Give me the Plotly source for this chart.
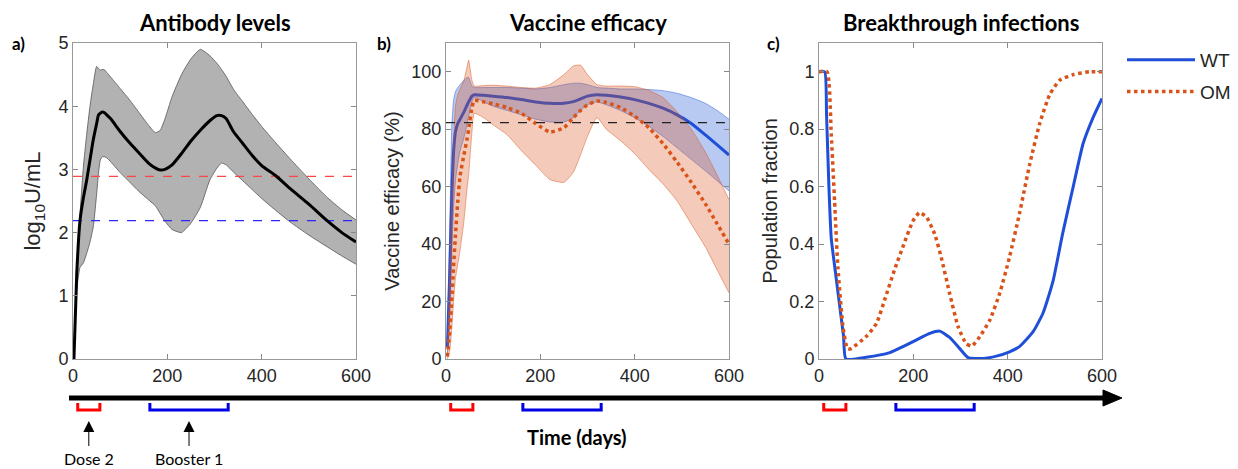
import plotly.graph_objects as go

# --- a) antibody levels (log10 U/mL) ---
days_a = [2, 8, 15, 22, 29, 36, 43, 50, 54, 58, 62, 66, 72, 80, 100, 120, 140, 160, 175, 185,
          195, 210, 230, 250, 270, 290, 305, 315, 325, 340, 360, 380, 400, 430, 460, 500, 540, 570, 600]
ab_med = [0, 1.36, 2.2, 2.55, 2.83, 3.15, 3.47, 3.72, 3.86, 3.89, 3.91, 3.9, 3.86, 3.8, 3.6, 3.42,
          3.26, 3.1, 3.02, 2.99, 3.0, 3.07, 3.25, 3.45, 3.62, 3.77, 3.85, 3.85, 3.8, 3.6, 3.41, 3.22,
          3.06, 2.9, 2.7, 2.45, 2.18, 2.0, 1.85]
ab_hi = [0.1, 1.2, 2.3, 3.04, 3.55, 4.0, 4.35, 4.63, 4.6, 4.57, 4.58, 4.58, 4.53, 4.46, 4.28, 4.1,
         3.9, 3.7, 3.58, 3.62, 3.8, 4.15, 4.5, 4.75, 4.9, 4.8, 4.68, 4.58, 4.47, 4.27, 4.07, 3.87,
         3.68, 3.42, 3.17, 2.85, 2.55, 2.36, 2.2]
ab_lo = [0, 1.1, 1.45, 1.52, 1.67, 1.85, 2.09, 2.6, 2.94, 3.15, 3.2, 3.2, 3.18, 3.12, 2.95, 2.8,
         2.65, 2.52, 2.42, 2.3, 2.18, 2.05, 2.0, 2.15, 2.4, 2.83, 3.02, 3.1, 3.07, 2.96, 2.82, 2.68,
         2.54, 2.35, 2.17, 1.96, 1.77, 1.63, 1.5]
thr_om = 2.89
thr_wt = 2.19

# --- b) vaccine efficacy (%) ---
days_b = [3, 8, 12, 16, 20, 25, 30, 38, 45, 48, 55, 60, 80, 100, 130, 160, 190, 220, 250, 270,
          285, 300, 320, 340, 370, 400, 430, 460, 490, 520, 550, 575, 600]
wt_med = [4, 30, 55, 72, 79, 82, 83.5, 86, 88.5, 89.5, 91.5, 92, 91.8, 91.5, 91, 90.3, 89.5, 89,
          89, 89.6, 90.5, 91.5, 92, 91.8, 91.2, 90.3, 89, 87.3, 85, 82, 78, 74.5, 71]
wt_hi = [6, 45, 80, 90, 93, 94.5, 95.5, 97, 98, 98, 95, 94.5, 94.5, 94.5, 94.5, 94.3, 94, 94.5,
         95.5, 96, 96, 95.5, 94.5, 94.3, 94, 94, 93.8, 93.4, 92.5, 91, 89, 86.5, 83.5]
wt_lo = [2, 15, 35, 52, 62, 68, 72.5, 77, 82, 84.5, 89.5, 91, 89.5, 88, 86.5, 85, 83.5, 82.5,
         82.5, 84, 86.5, 88.5, 89.5, 88.5, 86.5, 84, 81, 77.5, 73.5, 69.5, 65.5, 62, 58.5]
om_med = [0.8, 10, 20, 32, 43, 55, 64, 71, 77, 80, 87.5, 90, 89.5, 88.8, 87.5, 85.5, 82, 79,
          80.5, 84, 86.5, 88.5, 89.8, 89.3, 87.5, 84.5, 80.5, 75, 68.5, 61.5, 54, 47, 40]
om_hi = [1, 30, 55, 75, 88, 92, 94, 97, 102, 104, 97, 95, 95.2, 95.3, 95, 94.5, 94.3, 95.5, 99,
         102, 102.3, 99, 95.5, 95, 95, 94.8, 93.5, 91, 86, 80, 72, 64, 55.5]
om_lo = [0, 3, 10, 20, 28, 33, 38, 48, 60, 64, 79, 85.5, 84, 81.5, 78, 72.5, 67.5, 62.5, 61.5,
         65, 71, 77.5, 84, 80, 76, 71.5, 66, 61, 55, 47, 39, 31, 23]
ve_thr = 82.3

# --- c) breakthrough infections (population fraction) ---
days_c_wt = [0, 12, 16, 21, 26, 35, 45, 52, 57, 100, 150, 178, 206, 235, 256, 277, 298, 316,
             348, 376, 404, 425, 454, 475, 496, 517, 539, 560, 581, 600]
bt_wt = [1, 1, 0.85, 0.6, 0.42, 0.3, 0.17, 0.08, 0.0, 0.006, 0.022, 0.043, 0.066, 0.089, 0.097,
         0.075, 0.037, 0.005, 0.002, 0.01, 0.025, 0.043, 0.095, 0.16, 0.27, 0.44, 0.6, 0.75, 0.84, 0.907]
days_c_om = [0, 17, 26, 33, 40, 51, 60, 66, 100, 122, 139, 160, 180, 199, 213, 228, 245, 259, 277,
             295, 312, 324, 341, 362, 383, 404, 425, 447, 468, 489, 510, 539, 574, 600]
bt_om = [1, 1, 0.78, 0.55, 0.32, 0.11, 0.037, 0.035, 0.078, 0.124, 0.205, 0.31, 0.40, 0.48, 0.51,
         0.494, 0.436, 0.355, 0.228, 0.112, 0.054, 0.045, 0.078, 0.135, 0.228, 0.355, 0.506, 0.68,
         0.82, 0.92, 0.97, 0.99, 1.0, 1.0]

# dosing windows (days), shown under each panel
dose2_win = [10, 57]
boost_win = [163, 329]

series_names = ["WT", "OMI"]

BLUE = "#1f4fd8"
ORANGE = "#d95319"
SANS = "Liberation Sans, Arial"
TICKFONT = dict(family=SANS, size=18, color="#262626")
BOLD = "Lato, Open Sans, sans-serif"
SMOOTH = 0.5

# page body has an 8px margin, so the figure is a bit smaller than the window
PAD = 8
W, H = 1238 - PAD, 469 - PAD


def px_x(p):
    # window pixel -> paper fraction
    return (p - PAD) / W


def px_y(p):
    return 1 - (p - PAD) / H


fig = go.Figure()

# panel a
fig.add_trace(go.Scatter(x=days_a, y=ab_lo, mode="lines",
                         line=dict(color="#555555", width=0.8, shape="spline", smoothing=SMOOTH),
                         showlegend=False, xaxis="x", yaxis="y"))
fig.add_trace(go.Scatter(x=days_a, y=ab_hi, mode="lines",
                         line=dict(color="#555555", width=0.8, shape="spline", smoothing=SMOOTH),
                         fill="tonexty", fillcolor="rgb(178,178,178)", showlegend=False,
                         xaxis="x", yaxis="y"))
fig.add_trace(go.Scatter(x=[0, 600], y=[thr_om, thr_om], mode="lines",
                         line=dict(color="rgb(255,70,70)", width=1.2, dash="dash"),
                         showlegend=False, xaxis="x", yaxis="y"))
fig.add_trace(go.Scatter(x=[0, 600], y=[thr_wt, thr_wt], mode="lines",
                         line=dict(color="rgb(40,40,255)", width=1.2, dash="dash"),
                         showlegend=False, xaxis="x", yaxis="y"))
fig.add_trace(go.Scatter(x=days_a, y=ab_med, mode="lines",
                         line=dict(color="black", width=3, shape="spline", smoothing=SMOOTH),
                         showlegend=False, xaxis="x", yaxis="y"))

# panel b
fig.add_trace(go.Scatter(x=days_b, y=wt_lo, mode="lines",
                         line=dict(color="rgba(40,90,215,0.6)", width=0.8, shape="spline", smoothing=SMOOTH),
                         showlegend=False, xaxis="x2", yaxis="y2"))
fig.add_trace(go.Scatter(x=days_b, y=wt_hi, mode="lines",
                         line=dict(color="rgba(40,90,215,0.6)", width=0.8, shape="spline", smoothing=SMOOTH),
                         fill="tonexty", fillcolor="rgba(40,90,215,0.33)", showlegend=False,
                         xaxis="x2", yaxis="y2"))
fig.add_trace(go.Scatter(x=days_b, y=wt_med, mode="lines",
                         line=dict(color=BLUE, width=3, shape="spline", smoothing=SMOOTH),
                         showlegend=False, xaxis="x2", yaxis="y2"))
fig.add_trace(go.Scatter(x=days_b, y=om_lo, mode="lines",
                         line=dict(color="rgba(217,83,25,0.6)", width=0.8, shape="spline", smoothing=SMOOTH),
                         showlegend=False, xaxis="x2", yaxis="y2"))
fig.add_trace(go.Scatter(x=days_b, y=om_hi, mode="lines",
                         line=dict(color="rgba(217,83,25,0.6)", width=0.8, shape="spline", smoothing=SMOOTH),
                         fill="tonexty", fillcolor="rgba(217,83,25,0.3)", showlegend=False,
                         xaxis="x2", yaxis="y2"))
fig.add_trace(go.Scatter(x=days_b, y=om_med, mode="lines",
                         line=dict(color=ORANGE, width=3.5, dash="dot", shape="spline", smoothing=SMOOTH),
                         showlegend=False, xaxis="x2", yaxis="y2"))
fig.add_trace(go.Scatter(x=[0, 600], y=[ve_thr, ve_thr], mode="lines",
                         line=dict(color="#222222", width=1.2, dash="dash"),
                         showlegend=False, xaxis="x2", yaxis="y2"))

# panel c
fig.add_trace(go.Scatter(x=days_c_wt, y=bt_wt, mode="lines", name=series_names[0],
                         line=dict(color=BLUE, width=3, shape="spline", smoothing=SMOOTH),
                         legendgroup="wt", xaxis="x3", yaxis="y3"))
fig.add_trace(go.Scatter(x=days_c_om, y=bt_om, mode="lines", name=series_names[1],
                         line=dict(color=ORANGE, width=3.5, dash="dot", shape="spline", smoothing=SMOOTH),
                         legendgroup="om", xaxis="x3", yaxis="y3"))

ydom = [px_y(359), px_y(43)]
xdoms = [[px_x(73), px_x(356)], [px_x(446), px_x(729)], [px_x(819), px_x(1102)]]


def xax(dom):
    return dict(domain=dom, range=[0, 600], tickvals=[0, 200, 400, 600], ticks="inside",
                ticklen=5, tickcolor="#888", showline=True, linecolor="#999", linewidth=1,
                mirror="ticks", showgrid=False, zeroline=False, tickfont=TICKFONT)


def yax(anchor, rng, tv, tt, title, standoff, size):
    return dict(domain=ydom, range=rng, tickvals=tv, ticktext=tt, ticks="inside", ticklen=5,
                tickcolor="#888", showline=True, linecolor="#999", linewidth=1, mirror="ticks",
                showgrid=False, zeroline=False, anchor=anchor, tickfont=TICKFONT,
                title=dict(text=title, font=dict(family=SANS, size=size, color="#262626"),
                           standoff=standoff))


fig.update_layout(
    width=W, height=H,
    margin=dict(l=0, r=0, t=0, b=0, autoexpand=False),
    paper_bgcolor="white", plot_bgcolor="white",
    xaxis=dict(xax(xdoms[0]), anchor="y"),
    xaxis2=dict(xax(xdoms[1]), anchor="y2"),
    xaxis3=dict(xax(xdoms[2]), anchor="y3"),
    yaxis=yax("x", [0, 5], [0, 1, 2, 3, 4, 5], ["0", "1", "2", "3", "4", "5"],
              "log<sub>10</sub>U/mL", 11, 22),
    yaxis2=yax("x2", [0, 110], [0, 20, 40, 60, 80, 100], ["0", "20", "40", "60", "80", "100"],
               "Vaccine efficacy (%)", 6, 20),
    yaxis3=yax("x3", [0, 1.1], [0, 0.2, 0.4, 0.6, 0.8, 1], ["0", "0.2", "0.4", "0.6", "0.8", "1"],
               "Population fraction", 6, 20),
    legend=dict(x=px_x(1122), y=px_y(41), xanchor="left", yanchor="top",
                font=dict(family=SANS, size=19, color="#262626"),
                bgcolor="rgba(0,0,0,0)", itemwidth=68, tracegroupgap=4, traceorder="grouped"),
    showlegend=True,
)

titles = ["Antibody levels", "Vaccine efficacy", "Breakthrough infections"]
labels = ["a)", "b)", "c)"]
label_x = [18, 384, 773]
annotations = []
for i, (t, lab) in enumerate(zip(titles, labels)):
    annotations.append(dict(text="<b>%s</b>" % t, x=sum(xdoms[i]) / 2, y=px_y(23), xref="paper",
                            yref="paper", showarrow=False, xanchor="center", yanchor="middle",
                            font=dict(family=BOLD, size=22, color="black")))
    annotations.append(dict(text="<b>%s</b>" % lab, x=px_x(label_x[i]), y=px_y(44), xref="paper",
                            yref="paper", showarrow=False, xanchor="center", yanchor="middle",
                            font=dict(family=BOLD, size=17, color="black")))

annotations.append(dict(text="<b>Time (days)</b>", x=px_x(577), y=px_y(437), xref="paper", yref="paper",
                        xanchor="center", yanchor="middle", showarrow=False,
                        font=dict(family=BOLD, size=20, color="black")))

for win, lab in [(dose2_win, "Dose 2"), (boost_win, "Booster 1")]:
    annotations.append(dict(text=lab, x=sum(win) / 2, y=px_y(421), xref="x", yref="paper",
                            showarrow=True, ax=0, ay=37, arrowhead=2, arrowsize=2.2, arrowwidth=1,
                            arrowcolor="black", standoff=0, startstandoff=2, borderpad=0,
                            font=dict(family="Lato, sans-serif", size=16, color="black")))

shapes = []
# timeline arrow
shapes.append(dict(type="line", xref="paper", yref="paper", x0=px_x(69), x1=px_x(1108),
                   y0=px_y(398), y1=px_y(398), line=dict(color="black", width=5)))
shapes.append(dict(type="path", xref="paper", yref="paper",
                   path="M %f %f L %f %f L %f %f Z" % (px_x(1103), px_y(390), px_x(1122), px_y(398),
                                                      px_x(1103), px_y(406)),
                   fillcolor="black", line=dict(color="black", width=1)))
# dosing window brackets under each panel
for ax in ["x", "x2", "x3"]:
    for win, col in [(dose2_win, "rgb(255,0,0)"), (boost_win, "rgb(0,0,230)")]:
        shapes.append(dict(type="path", xref=ax, yref="paper",
                           path="M %f %f L %f %f L %f %f L %f %f" % (
                               win[0], px_y(403), win[0], px_y(410), win[1], px_y(410), win[1], px_y(403)),
                           line=dict(color=col, width=3)))

fig.update_layout(annotations=annotations, shapes=shapes)

fig.write_html("out.html")
